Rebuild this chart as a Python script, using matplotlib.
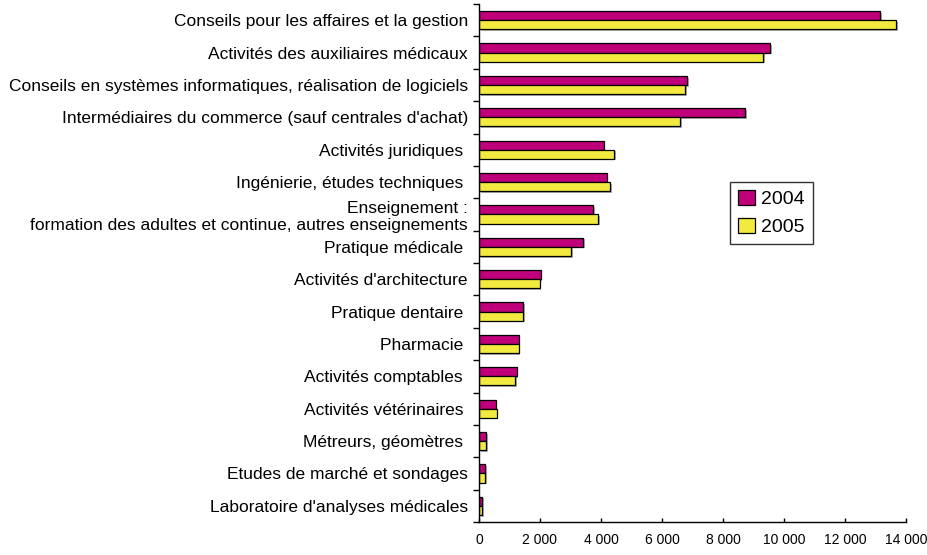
import matplotlib
matplotlib.use("Agg")
import matplotlib.pyplot as plt
import matplotlib.patheffects as pe
from matplotlib import font_manager
from matplotlib.patches import Patch
import numpy as np

categories = [
    "Conseils pour les affaires et la gestion",
    "Activités des auxiliaires médicaux",
    "Conseils en systèmes informatiques, réalisation de logiciels",
    "Intermédiaires du commerce (sauf centrales d'achat)",
    "Activités juridiques ",
    "Ingénierie, études techniques ",
    "Enseignement :\nformation des adultes et continue, autres enseignements",
    "Pratique médicale ",
    "Activités d'architecture",
    "Pratique dentaire ",
    "Pharmacie ",
    "Activités comptables ",
    "Activités vétérinaires ",
    "Métreurs, géomètres ",
    "Etudes de marché et sondages",
    "Laboratoire d'analyses médicales",
]
values_2004 = [13160, 9540, 6830, 8730, 4090, 4190, 3750, 3410, 2020, 1440, 1300, 1240, 550, 230, 200, 100]
values_2005 = [13670, 9310, 6750, 6590, 4430, 4300, 3910, 3020, 1990, 1440, 1300, 1190, 580, 230, 200, 100]
series_labels = ["2004", "2005"]
xticks = [0, 2000, 4000, 6000, 8000, 10000, 12000, 14000]
xticklabels = ["0", "2 000", "4 000", "6 000", "8 000", "10 000", "12 000", "14 000"]

names = {f.name for f in font_manager.fontManager.ttflist}
main_font = "Liberation Sans" if "Liberation Sans" in names else "DejaVu Sans"
plt.rcParams["font.family"] = [main_font, "DejaVu Sans"]

c2004 = "#C0007A"
c2005 = "#F2EA3E"

fig = plt.figure(figsize=(9.28, 5.55), dpi=100)
ax = fig.add_axes([479 / 928, 1 - 522 / 555, (906 - 479) / 928, (522 - 4) / 555])

y = np.arange(len(categories))
h = 0.28
shadow = [pe.SimplePatchShadow(offset=(1.2, -1.2), shadow_rgbFace="#999999", alpha=0.8), pe.Normal()]
b1 = ax.barh(y - h / 2, values_2004, height=h, color=c2004, edgecolor="black", linewidth=0.9)
b2 = ax.barh(y + h / 2, values_2005, height=h, color=c2005, edgecolor="black", linewidth=0.9)
for bars in (b1, b2):
    for p in bars:
        p.set_path_effects(shadow)

ax.set_ylim(len(categories) - 0.5, -0.5)
ax.set_xlim(0, 14000)

ax.set_yticks(y)
ax.set_yticklabels(categories, fontsize=12.5)
ax.set_yticks(np.arange(len(categories) + 1) - 0.5, minor=True)
ax.tick_params(axis="y", which="major", length=0, pad=8)
ax.tick_params(axis="y", which="minor", length=4, width=1, direction="out")

ax.set_xticks(xticks)
ax.set_xticklabels(xticklabels, fontsize=10)
ax.tick_params(axis="x", length=3, width=1, direction="in", pad=8)

for s in ("top", "right"):
    ax.spines[s].set_visible(False)
for s in ("left", "bottom"):
    ax.spines[s].set_linewidth(1)

handles = [Patch(facecolor=c2004, edgecolor="black", linewidth=0.9),
           Patch(facecolor=c2005, edgecolor="black", linewidth=0.9)]
leg = fig.legend(handles, series_labels, loc="upper left",
                 bbox_to_anchor=(730 / 928, 1 - 182 / 555), fontsize=14,
                 frameon=True, fancybox=False, borderpad=0.4, handlelength=0.9,
                 handleheight=0.8, handletextpad=0.3, labelspacing=0.5,
                 borderaxespad=0)
leg.get_frame().set_edgecolor("black")
leg.get_frame().set_linewidth(1)

fig.savefig("out.png", dpi=100)
